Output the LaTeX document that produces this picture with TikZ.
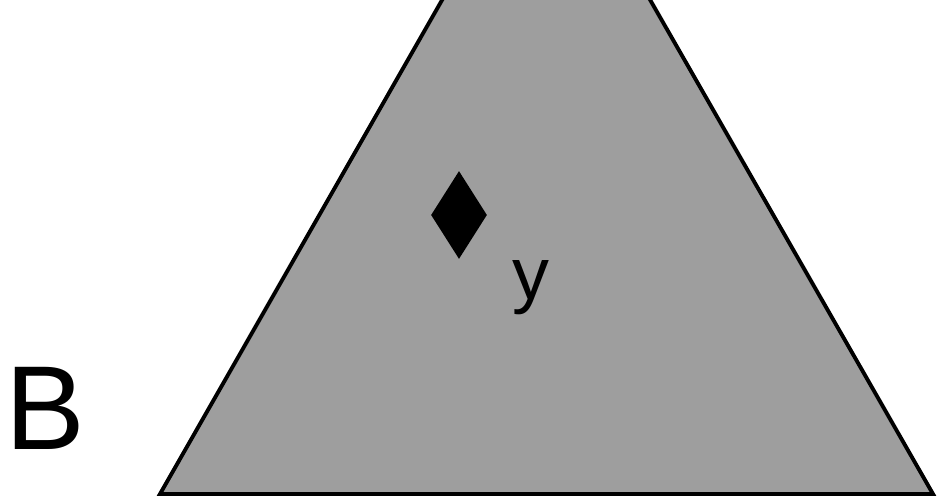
\documentclass[tikz,border=0pt]{standalone}
\usepackage{fontspec}
\setmainfont{Liberation Sans}
\usetikzlibrary{shapes.geometric}
\definecolor{fillgray}{RGB}{158,158,158}

\begin{document}
\begin{tikzpicture}[x=0.02cm,y=-0.02cm,
			tri/.style={fill=fillgray,draw=black,line width=2.2pt,line join=miter},
			mk/.style={diamond,fill=black,inner sep=0pt,minimum width=1.12cm,minimum height=1.76cm},
			lbl/.style={inner sep=0pt,anchor=base west}]
			\useasboundingbox (0,0) rectangle (939,502);
			\clip (0,0) rectangle (939,502);
			% cut-off triangle
			\filldraw[tri] (546,-182) -- (933,494) -- (160,494) -- cycle;
			\node[mk] (dia) at (459,215) {};
			\node[lbl,font=\fontsize{42}{42}\selectfont] (ylab) at (512,300) {y};
			\node[lbl,font=\fontsize{68}{68}\selectfont] (blab) at (5,450) {B};
		\end{tikzpicture}
\end{document}
